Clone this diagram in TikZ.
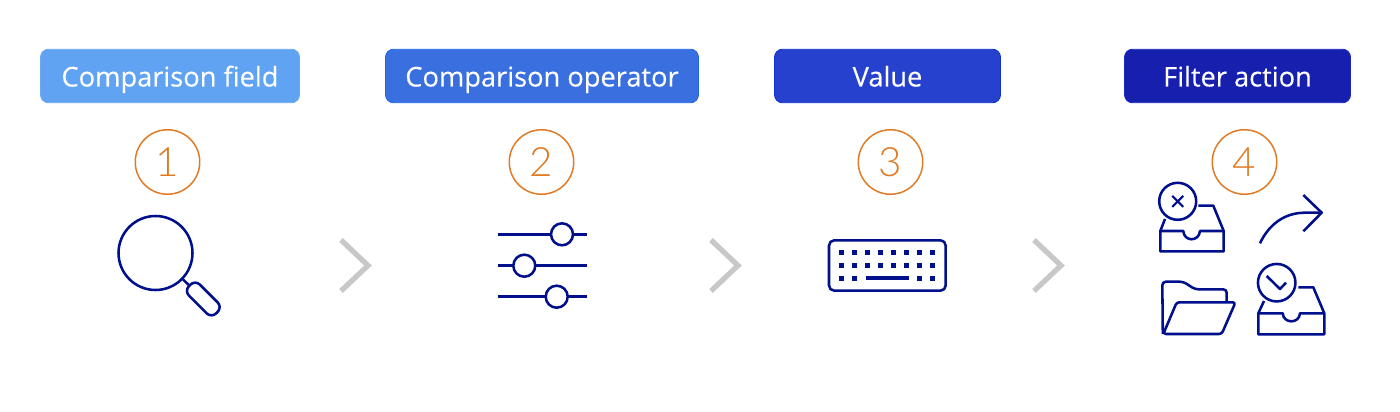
\documentclass[tikz,border=0pt]{standalone}
\usepackage{fontspec}
\setmainfont[FakeBold=0.25]{Open Sans}
\newfontfamily\digitfont[UprightFont=* Light]{Lato}
\definecolor{iconblue}{HTML}{00108C}
\definecolor{stepline}{HTML}{E07A24}
\definecolor{chevrongray}{HTML}{C8C8C8}
\definecolor{fieldblue}{HTML}{5FA3F2}
\definecolor{fieldedge}{HTML}{6AA8F0}
\definecolor{operatorblue}{HTML}{3A6FE0}
\definecolor{operatoredge}{HTML}{2066E8}
\definecolor{valueblue}{HTML}{2541CE}
\definecolor{valueedge}{HTML}{1030D0}
\definecolor{actionblue}{HTML}{161FAE}
\definecolor{actionedge}{HTML}{1C28C0}
\begin{document}
\begin{tikzpicture}[x=0.02cm,y=-0.02cm]
    \tikzstyle{title} = [rounded corners=4.5pt, line width=0.5pt, minimum height=1.07cm, inner sep=0pt, text height=0.42cm, text depth=0pt, text=white, font=\fontsize{15.5}{18}\selectfont]
    \tikzstyle{stepnum} = [draw=stepline, line width=0.85pt, circle, minimum size=1.29cm, inner sep=0pt, text=stepline, font=\digitfont\fontsize{23}{26}\selectfont]
    \tikzstyle{chevron} = [draw=chevrongray, line width=3pt]
    \tikzstyle{icon} = [draw=iconblue, line width=1.45pt, line join=round]
    \tikzstyle{knob} = [icon, fill=white, circle, minimum size=0.44cm, inner sep=0pt]
    \useasboundingbox (0,0) rectangle (1400,412);

    % Title boxes
    \node [title, draw=fieldedge, fill=fieldblue, minimum width=5.18cm] (Field) at (170,76) {Comparison field};
    \node [title, draw=operatoredge, fill=operatorblue, minimum width=6.26cm] (Operator) at (542,76) {Comparison operator};
    \node [title, draw=valueedge, fill=valueblue, minimum width=4.52cm] (Value) at (887.5,76) {Value};
    \node [title, draw=actionedge, fill=actionblue, minimum width=4.52cm] (Action) at (1237.5,76) {Filter action};

    % Step numbers
    \node [stepnum] (One) at (167.5,162) {1};
    \node [stepnum] (Two) at (541.5,162) {2};
    \node [stepnum] (Three) at (890.5,162) {3};
    \node [stepnum] (Four) at (1244.5,162) {4};

    % Chevrons between the steps
    \draw [chevron] (341,240) -- (368,265.5) -- (341,291);
    \draw [chevron] (711,240) -- (738,265.5) -- (711,291);
    \draw [chevron] (1034,240) -- (1061,265.5) -- (1034,291);

    % Magnifier
    \node [icon, circle, minimum size=1.48cm, inner sep=0pt] (Lens) at (155.5,253) {};
    \node [icon, rounded corners=3.8pt, rotate=-45, minimum width=0.77cm, minimum height=0.31cm, inner sep=0pt] (Grip) at (203.3,299) {};
    \draw [icon] (Lens) -- (Grip);

    % Sliders
    \draw [icon] (498.3,234.3) -- (586.7,234.3);
    \draw [icon] (498.3,265.7) -- (586.7,265.7);
    \draw [icon] (498.3,296.7) -- (586.7,296.7);
    \node [knob] (KnobA) at (562,234.3) {};
    \node [knob] (KnobB) at (524.3,265.7) {};
    \node [knob] (KnobC) at (556.7,296.7) {};

    % Keyboard
    \draw [icon, rounded corners=3pt] (829,240.3) rectangle (945.7,290.7);
    \foreach \x in {841.7,854.7,867.7,880.7,893.7,906.7,919.7,932.7} {
        \foreach \y in {252.7,265.7} {
            \fill [iconblue] (\x-2.3,\y-2.3) rectangle (\x+2.3,\y+2.3);
        }
    }
    \foreach \x in {841.7,854.7,919.7,932.7} {
        \fill [iconblue] (\x-2.3,276) rectangle (\x+2.3,280.6);
    }
    \fill [iconblue] (866,276.3) rectangle (909,280.3);

    % Rejected tray
    \node [icon, circle, minimum size=0.74cm, inner sep=0pt] (Reject) at (1177.7,201.3) {};
    \draw [icon, line width=1.2pt] (1172.2,195.8) -- (1183.2,206.8);
    \draw [icon, line width=1.2pt] (1183.2,195.8) -- (1172.2,206.8);
    \draw [icon] (1165,219) -- (1160.3,231) -- (1160.3,251.3) -- (1223.7,251.3) -- (1223.7,231) -- (1213.3,205.7) -- (1198.3,205.7);
    \draw [icon] (1160.3,231) -- (1183.3,231) .. controls (1184,242) and (1199,242) .. (1200,231) -- (1223.7,231);

    % Forward arrow
    \draw [icon] (1260,243.3) .. controls (1269,224) and (1285,212.7) .. (1305,212.7) -- (1321.7,212.7);
    \draw [icon] (1303.3,195) -- (1321.7,212.7) -- (1303.3,231.3);

    % Folder
    \draw [icon, rounded corners=2pt] (1162.8,334) -- (1162.3,281.7) -- (1183.3,281.7) -- (1195,289.3) -- (1226.7,289.3) -- (1226.7,302.3);
    \draw [icon, rounded corners=1.5pt] (1163.3,334) -- (1221.7,334) -- (1235.5,302.3) -- (1176.7,302.3) -- cycle;

    % Accepted tray
    \node [icon, circle, minimum size=0.75cm, inner sep=0pt] (Accept) at (1276.7,282.7) {};
    \draw [icon] (1266.7,276) -- (1280,289) -- (1286,282.7);
    \draw [icon] (1264,301) -- (1258.3,313.3) -- (1258.3,334.3) -- (1324.3,334.3) -- (1324.3,313.3) -- (1313.3,287.3) -- (1298.3,287.3);
    \draw [icon] (1258.3,313.3) -- (1282.7,313.3) .. controls (1283.4,324) and (1299.3,324) .. (1300,313.3) -- (1324.3,313.3);
\end{tikzpicture}
\end{document}
